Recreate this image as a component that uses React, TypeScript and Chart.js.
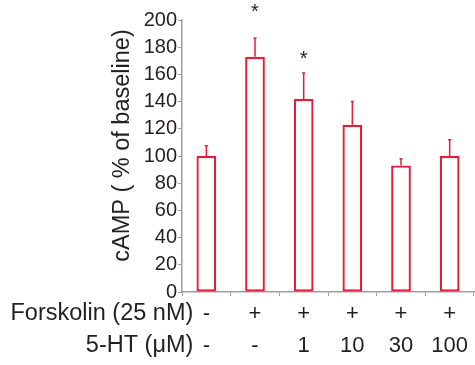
import React, { useEffect, useRef } from "react";
import { Chart, registerables } from "chart.js";

Chart.register(...registerables);

const forskolin = ["-", "+", "+", "+", "+", "+"];
const serotonin = ["-", "-", "1", "10", "30", "100"];
const values = [100, 173, 142, 123, 93, 100];
const errUpper = [7.5, 13.5, 19, 17, 5, 12];
const sigMarks = ["", "*", "*", "", "", ""];
const sigLevels = [0, 210, 175, 0, 0, 0];
const rowHeaders = ["Forskolin (25 nM)", "5-HT (μM)"];
const yTitle = "cAMP ( % of baseline)";

const RED = "#e41e3a";
const AXIS = "#9d9d9d";
const TEXT = "#231f20";
const FONT = "'Liberation Sans', Arial, sans-serif";
const LABEL_SIZE = 22;
const HEADER_SIZE = 23.5;
const LINE_H = 31.6;

const overlay = {
  id: "overlay",
  afterDatasetsDraw(chart: any) {
    const ctx = chart.ctx;
    const x = chart.scales.x;
    const y = chart.scales.y;
    const meta = chart.getDatasetMeta(0);
    ctx.save();
    // error bars
    ctx.strokeStyle = RED;
    ctx.lineWidth = 1.5;
    meta.data.forEach((bar: any, i: number) => {
      const top = y.getPixelForValue(values[i]);
      const et = y.getPixelForValue(values[i] + errUpper[i]);
      ctx.beginPath();
      ctx.moveTo(bar.x, top);
      ctx.lineTo(bar.x, et);
      ctx.moveTo(bar.x - 1.5, et);
      ctx.lineTo(bar.x + 1.5, et);
      ctx.stroke();
    });
    // significance marks
    ctx.fillStyle = TEXT;
    ctx.font = `20px ${FONT}`;
    ctx.textAlign = "center";
    ctx.textBaseline = "alphabetic";
    sigMarks.forEach((m, i) => {
      if (!m) return;
      const px = x.getPixelForValue(i);
      const py = y.getPixelForValue(sigLevels[i]);
      ctx.fillText(m, px, py + 11.4);
    });
    // row headers
    ctx.font = `${HEADER_SIZE}px ${FONT}`;
    ctx.textAlign = "right";
    ctx.textBaseline = "middle";
    const hx = x.getPixelForValue(0) - 13;
    rowHeaders.forEach((h, r) => {
      const hy = x.top + 6.2 + LINE_H / 2 + r * LINE_H;
      ctx.fillText(h, hx, hy);
    });
    // y title
    ctx.font = `23.5px ${FONT}`;
    ctx.textAlign = "center";
    ctx.textBaseline = "alphabetic";
    ctx.translate(129, (y.top + y.bottom) / 2 - 10.5);
    ctx.rotate(-Math.PI / 2);
    ctx.fillText(yTitle, 0, 0);
    ctx.restore();
  },
};

export default function App() {
  const ref = useRef<HTMLCanvasElement>(null);
  useEffect(() => {
    if (!ref.current) return;
    const labels = forskolin.map((f, i) => [f, serotonin[i]]);
    const chart = new Chart(ref.current, {
      type: "bar",
      data: {
        labels,
        datasets: [
          {
            data: values,
            backgroundColor: "#ffffff",
            borderColor: RED,
            borderWidth: 2.3,
            borderSkipped: false,
            barPercentage: 0.405,
            categoryPercentage: 1,
          },
        ],
      },
      options: {
        animation: false,
        responsive: false,
        devicePixelRatio: 1,
        layout: { padding: { top: 20, right: 1, left: 0, bottom: 0 } },
        plugins: {
          legend: { display: false },
          tooltip: { enabled: false },
          title: { display: false },
        },
        scales: {
          x: {
            grid: {
              offset: true,
              drawOnChartArea: false,
              drawTicks: true,
              tickLength: 4,
              color: AXIS,
              lineWidth: 1,
            },
            border: { color: AXIS, width: 1.5 },
            ticks: {
              color: TEXT,
              padding: 2.2,
              maxRotation: 0,
              autoSkip: false,
              font: { family: FONT, size: LABEL_SIZE, lineHeight: LINE_H / LABEL_SIZE },
            },
            afterFit(scale: any) {
              scale.height = 73;
            },
          },
          y: {
            min: 0,
            max: 200,
            grid: {
              drawOnChartArea: false,
              drawTicks: true,
              tickLength: 4,
              color: AXIS,
              lineWidth: 1,
            },
            border: { color: AXIS, width: 1.5 },
            ticks: {
              stepSize: 20,
              color: TEXT,
              padding: 1,
              font: { family: FONT, size: 20 },
            },
            afterFit(scale: any) {
              scale.width = 182;
            },
          },
        },
      },
      plugins: [overlay],
    });
    return () => chart.destroy();
  }, []);
  return (
    <div style={{ position: "absolute", left: 0, top: 0, width: 475, height: 365, background: "#fff" }}>
      <canvas ref={ref} width={475} height={365} />
    </div>
  );
}
